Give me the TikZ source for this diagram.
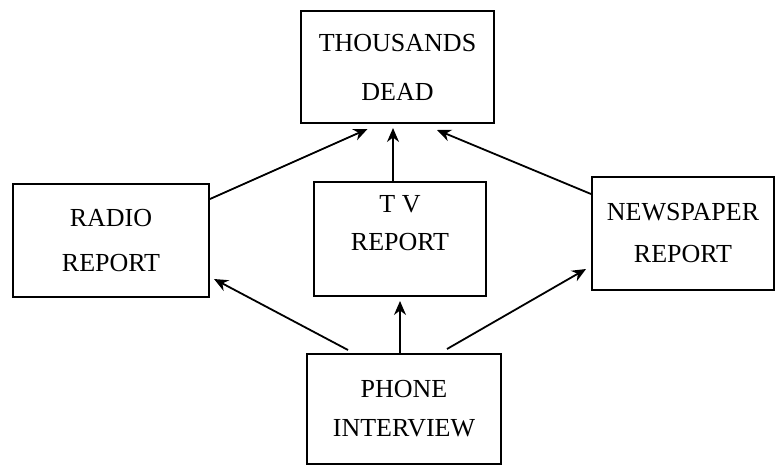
\documentclass[tikz,border=0pt]{standalone}
\usepackage{fontspec}
\setmainfont{Liberation Serif}
\usetikzlibrary{arrows.meta}

\begin{document}
\begin{tikzpicture}[x=1pt,y=-1pt,->,>={Stealth[length=14pt,width=12pt]},line width=1.8pt,
                    box/.style={draw,rectangle,line width=2pt,align=center,
                      font=\fontsize{26}{#1}\selectfont}]
  \useasboundingbox (0,0) rectangle (775,466);

  \node[box=49,minimum width=193pt,minimum height=112pt] (dead) at (397.5,67) {THOUSANDS\\DEAD};
  \node[box=45,minimum width=196pt,minimum height=113pt] (radio) at (111,240.5) {RADIO\\REPORT};
  \node[box=38,minimum width=172pt,minimum height=114pt,text depth=32pt] (tv) at (400,239) {T V\\REPORT};
  \node[box=42,minimum width=182pt,minimum height=113pt] (news) at (683,233.5) {NEWSPAPER\\REPORT};
  \node[box=39,minimum width=194pt,minimum height=110pt] (phone) at (404,409) {PHONE\\INTERVIEW};

  \draw ([yshift=-16pt]radio.north east) -- ([xshift=-30pt,yshift=-5pt]dead.south);
  \draw ([xshift=-7pt]tv.north) -- ([xshift=-4.5pt,yshift=-4pt]dead.south);
  \draw ([yshift=-18pt]news.north west) -- ([xshift=39.5pt,yshift=-6pt]dead.south);
  \draw ([xshift=-56pt,yshift=3pt]phone.north) -- ([xshift=4pt,yshift=19pt]radio.south east);
  \draw ([xshift=-4pt]phone.north) -- ([yshift=-4pt]tv.south);
  \draw ([xshift=43pt,yshift=4pt]phone.north) -- ([xshift=-5pt,yshift=22pt]news.south west);
\end{tikzpicture}
\end{document}
